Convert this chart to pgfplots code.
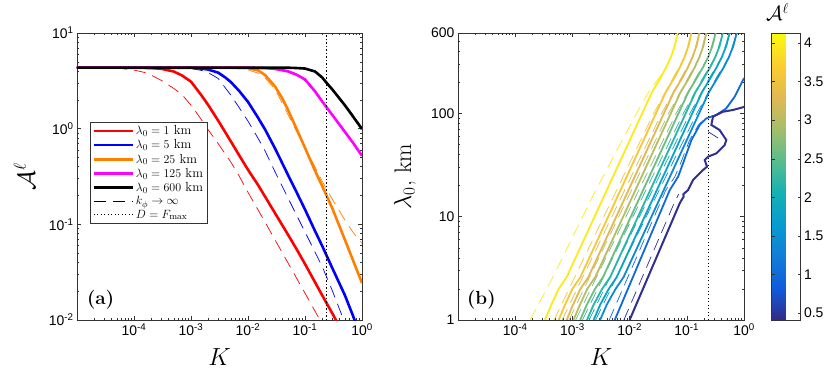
\documentclass[border=0pt]{standalone}
\usepackage{fontspec}
\usepackage{pgfplots}
\pgfplotsset{compat=1.18}
\newfontfamily\ticksf{Liberation Sans}

% parula level colours for panel (b)
\definecolor{c40}{RGB}{250,235,25}
\definecolor{c36}{RGB}{244,200,56}
\definecolor{c33}{RGB}{225,185,82}
\definecolor{c30}{RGB}{181,189,101}
\definecolor{c26}{RGB}{112,189,130}
\definecolor{c22}{RGB}{43,181,167}
\definecolor{c18}{RGB}{12,164,197}
\definecolor{c14}{RGB}{14,137,212}
\definecolor{c10}{RGB}{16,106,219}
\definecolor{c05}{RGB}{49,47,144}
\definecolor{morange}{RGB}{255,128,0}
\definecolor{mmag}{RGB}{255,0,255}

\tikzset{
  thdash/.style={line width=0.7bp, dash pattern=on 12bp off 7bp},
  dotline/.style={black, line width=1.2bp, dash pattern=on 1.2bp off 2.3bp},
  thk/.style={line width=2.6bp},
  cl/.style={line width=1.8bp},
}

\pgfplotsset{
  colormap={parula}{rgb255=(53,42,135) rgb255=(15,92,221) rgb255=(18,125,216)
    rgb255=(7,156,207) rgb255=(21,177,180) rgb255=(89,189,140) rgb255=(165,190,107)
    rgb255=(225,185,82) rgb255=(252,206,46) rgb255=(249,251,14)},
}
\newcommand\minorx{2e-5,3e-5,4e-5,5e-5,6e-5,7e-5,8e-5,9e-5,
      2e-4,3e-4,4e-4,5e-4,6e-4,7e-4,8e-4,9e-4,
      2e-3,3e-3,4e-3,5e-3,6e-3,7e-3,8e-3,9e-3,
      0.02,0.03,0.04,0.05,0.06,0.07,0.08,0.09,
      0.2,0.3,0.4,0.5,0.6,0.7,0.8,0.9}
\newcommand\tenp[1]{10\textsuperscript{#1}}

\begin{document}
\begin{tikzpicture}
\path[use as bounding box] (0,0) rectangle (830bp,377bp);

% ---------------- panel (a)
\begin{axis}[
  scale only axis, width=285bp, height=287bp, anchor=south west, at={(77bp,57bp)},
  xmode=log, ymode=log, xmin=1e-5, xmax=1, ymin=1e-2, ymax=10,
  xtick={1e-4,1e-3,1e-2,1e-1,1},
  xticklabels={\tenp{-4},\tenp{-3},\tenp{-2},\tenp{-1},\tenp{0}},
  minor xtick/.expanded={\minorx},
  ytick={1e-2,1e-1,1,10},
  yticklabels={\tenp{-2},\tenp{-1},\tenp{0},\tenp{1}},
  minor ytick={0.02,0.03,0.04,0.05,0.06,0.07,0.08,0.09,0.2,0.3,0.4,0.5,0.6,0.7,0.8,0.9,2,3,4,5,6,7,8,9},
  tick align=inside, major tick length=4bp, minor tick length=2bp,
  axis line style={black!80, line width=0.6bp},
  tick style={black!80, line width=0.5bp},
  tick label style={font=\ticksf\fontsize{14}{16}\selectfont},
  xlabel={\fontsize{28}{30}\selectfont $K$},
  xlabel style={at={(axis description cs:0.5,0)}, anchor=north, inner sep=0pt, yshift=-28bp},
  ylabel={\fontsize{26}{28}\selectfont $\mathcal{A}^\ell$},
  ylabel style={at={(axis description cs:-0.147,0.5)}, anchor=south, inner sep=0pt},
  legend style={at={(0.0456,0.69)}, anchor=north west,
    font=\fontsize{13.2}{15}\selectfont, draw=black!80, line width=0.5bp,
    inner xsep=2bp, inner ysep=1.5bp, row sep=0pt,
    nodes={inner ysep=1.8bp}},
  legend cell align=left,
  legend image post style={xscale=2.3},
]
% k_phi -> infinity (thin dashed)
\addplot[red, thdash, forget plot] coordinates {
  (1e-5,4.35) (3e-5,4.34) (6e-5,4.25) (1e-4,4.10) (1.5e-4,3.88) (2e-4,3.63)
  (3e-4,3.20) (5e-4,2.63) (7e-4,2.26) (1e-3,1.76) (1.5e-3,1.259) (2e-3,0.973)
  (3e-3,0.697) (5e-3,0.447) (7e-3,0.320) (1e-2,0.216) (2e-2,0.105)
  (5e-2,0.0398) (0.1,0.0191) (0.2,0.0091)};
\addplot[blue, thdash, forget plot] coordinates {
  (1e-5,4.35) (5e-4,4.335) (1e-3,4.25) (1.5e-3,4.07) (2e-3,3.85) (3e-3,3.35)
  (5e-3,2.24) (7e-3,1.66) (1e-2,1.20) (1.5e-2,0.794) (2e-2,0.582) (3e-2,0.351)
  (5e-2,0.190) (0.1,0.0832) (0.2,0.0363) (0.3,0.0204) (0.45,0.01096) (0.5,0.0093)};
\addplot[morange, thdash, forget plot] coordinates {
  (1e-5,4.35) (3e-3,4.34) (5e-3,4.29) (1e-2,4.12) (1.5e-2,3.80) (2e-2,3.39)
  (3e-2,2.57) (5e-2,1.413) (7e-2,0.955) (0.1,0.631) (0.15,0.398) (0.2,0.282)
  (0.3,0.184) (0.5,0.111) (0.7,0.0822) (1,0.0631)};
\addplot[mmag, thdash, forget plot] coordinates {
  (1e-5,4.35) (1e-2,4.34) (2e-2,4.28) (3e-2,4.17) (5e-2,3.90) (7e-2,3.60)
  (0.1,3.17) (0.15,2.40) (0.2,1.90) (0.3,1.38) (0.5,0.92) (0.7,0.70) (1,0.515)};

% full model (thick solid)
\addplot[red, thk] coordinates {
  (1e-5,4.35) (1e-4,4.335) (2e-4,4.30) (3e-4,4.225) (5e-4,3.955) (7e-4,3.59)
  (1e-3,3.1) (1.5e-3,2.26) (2e-3,1.77) (3e-3,1.213) (5e-3,0.736) (7e-3,0.527)
  (1e-2,0.372) (1.5e-2,0.258) (2e-2,0.194) (3e-2,0.130) (5e-2,0.0785)
  (7e-2,0.056) (0.1,0.0385) (0.15,0.0248) (0.2,0.01816) (0.3,0.01178) (0.4,0.00863)};
\addlegendentry{$\lambda_0 = 1$ km}
\addplot[blue, thk] coordinates {
  (1e-5,4.35) (1e-3,4.33) (1.5e-3,4.25) (2e-3,4.15) (3e-3,3.85) (4e-3,3.43)
  (5e-3,3.07) (7e-3,2.48) (1e-2,1.905) (1.5e-2,1.303) (2e-2,0.977) (3e-2,0.617)
  (5e-2,0.331) (7e-2,0.221) (0.1,0.143) (0.15,0.0851) (0.2,0.0596) (0.3,0.0351)
  (0.5,0.0182) (0.7,0.01096) (0.8,0.0087)};
\addlegendentry{$\lambda_0 = 5$ km}
\addplot[morange, thk] coordinates {
  (1e-5,4.35) (5e-3,4.335) (1e-2,4.30) (1.5e-2,4.07) (2e-2,3.63) (3e-2,2.75)
  (4e-2,2.065) (5e-2,1.585) (7e-2,1.016) (0.1,0.631) (0.15,0.363) (0.2,0.252)
  (0.3,0.148) (0.5,0.0692) (0.7,0.0417) (1,0.0243)};
\addlegendentry{$\lambda_0 = 25$ km}
\addplot[mmag, thk] coordinates {
  (1e-5,4.35) (1e-2,4.345) (2e-2,4.30) (3e-2,4.21) (5e-2,3.98) (7e-2,3.69)
  (0.1,3.27) (0.15,2.455) (0.2,1.928) (0.3,1.396) (0.5,0.927) (0.7,0.708) (1,0.52)};
\addlegendentry{$\lambda_0 = 125$ km}
\addplot[black, thk] coordinates {
  (1e-5,4.35) (5e-2,4.335) (7e-2,4.305) (0.1,4.25) (0.15,3.96) (0.2,3.43)
  (0.25,2.92) (0.3,2.58) (0.5,1.758) (0.7,1.334) (1,0.989)};
\addlegendentry{$\lambda_0 = 600$ km}
\addplot[black, thdash] coordinates {
  (1e-5,4.35) (5e-2,4.33) (0.1,4.22) (0.15,3.92) (0.2,3.40) (0.3,2.60)
  (0.5,1.80) (0.7,1.38) (1,1.02)};
\addlegendentry{$k_\phi \rightarrow \infty$}
\addplot[dotline] coordinates {(0.236,0.01) (0.236,10)};
\addlegendentry{$D = F_{\max}$}

\node[anchor=south west, inner sep=0pt, xshift=10bp, yshift=11bp,
  font=\fontsize{19}{21}\selectfont\bfseries] at (rel axis cs:0,0) {(a)};
\end{axis}

% ---------------- panel (b)
\begin{axis}[
  scale only axis, width=286bp, height=287bp, anchor=south west, at={(458bp,57bp)},
  xmode=log, ymode=log, xmin=1e-5, xmax=1, ymin=1, ymax=600,
  xtick={1e-4,1e-3,1e-2,1e-1,1},
  xticklabels={\tenp{-4},\tenp{-3},\tenp{-2},\tenp{-1},\tenp{0}},
  minor xtick/.expanded={\minorx},
  ytick={1,10,100,600}, yticklabels={1,10,100,600},
  minor ytick={2,3,4,5,6,7,8,9,20,30,40,50,60,70,80,90,200,300,400,500},
  tick align=inside, major tick length=4bp, minor tick length=2bp,
  axis line style={black!80, line width=0.6bp},
  tick style={black!80, line width=0.5bp},
  tick label style={font=\ticksf\fontsize{14}{16}\selectfont},
  xlabel={\fontsize{28}{30}\selectfont $K$},
  xlabel style={at={(axis description cs:0.5,0)}, anchor=north, inner sep=0pt, yshift=-28bp},
  ylabel={\fontsize{24}{26}\selectfont $\lambda_0$, km},
  ylabel style={at={(axis description cs:-0.147,0.5)}, anchor=south, inner sep=0pt},
  colormap name=parula, colorbar, point meta min=0.41, point meta max=4.13,
  colorbar style={at={(parent axis.north east)}, anchor=north west, xshift=19bp,
    scale only axis, width=29bp, height=287bp,
    ytick={0.5,1,1.5,2,2.5,3,3.5,4},
    tick align=inside, major tick length=3bp,
    axis line style={black!80, line width=0.6bp},
    tick style={black!80, line width=0.5bp},
    yticklabel style={font=\ticksf\fontsize{14}{16}\selectfont,
      /pgf/number format/assume math mode=true}},
]
% k_phi -> infinity contours (thin dashed)
\addplot[c40, thdash] coordinates {(1.82e-4,1) (4.57e-4,2.6) (2.29e-3,16) (1.318e-2,100)
  (2.138e-2,160) (3.236e-2,220) (4.365e-2,280) (5.248e-2,350) (6.166e-2,450) (6.918e-2,600)};
\addplot[c36, thdash] coordinates {(4.78e-4,1) (2.63e-2,100) (5.75e-2,220) (9.12e-2,350) (0.1202,600)};
\addplot[c33, thdash] coordinates {(6.61e-4,1) (3.63e-2,100) (7.95e-2,220) (0.1259,350) (0.166,600)};
\addplot[c30, thdash] coordinates {(8.71e-4,1) (4.79e-2,100) (0.1047,220) (0.166,350) (0.219,600)};
\addplot[c26, thdash] coordinates {(1.14e-3,1) (6.53e-2,100) (0.1429,220) (0.2356,350) (0.319,600)};
\addplot[c22, thdash] coordinates {(1.50e-3,1) (8.71e-2,100) (0.1905,220) (0.314,350) (0.426,600)};
\addplot[c18, thdash] coordinates {(1.96e-3,1) (0.1135,100) (0.2483,220) (0.409,350) (0.56,600)};
\addplot[c14, thdash] coordinates {(2.54e-3,1) (0.1497,100) (0.3274,220) (0.545,350) (0.746,600)};
\addplot[c10, thdash] coordinates {(4.4e-3,1) (0.043,18.1) (0.062,24.4) (0.078,32.9) (0.112,55.2)
  (0.16,77.3) (0.21,89.5) (0.32,96.6) (0.48,112) (0.68,145) (1,215)};
\addplot[c05, thdash] coordinates {(7.94e-3,1) (0.06,13.5) (0.072,16.5)};
\addplot[c05, thdash] coordinates {(0.235,66.5) (0.402,55.2)};

% full model contours (solid)
\addplot[c40, cl] coordinates {(3.31e-4,1) (4.27e-4,1.4) (5.75e-4,2) (7.94e-4,2.6) (1.66e-2,100)
  (2.455e-2,160) (3.467e-2,220) (4.365e-2,280) (5.248e-2,350) (6.166e-2,450) (6.918e-2,600)};
\addplot[c36, cl] coordinates {(5.75e-4,1) (7.42e-4,1.4) (1.0e-3,2) (1.38e-3,2.6) (2.885e-2,100)
  (4.267e-2,160) (6.026e-2,220) (7.586e-2,280) (9.12e-2,350) (0.1072,450) (0.1202,600)};
\addplot[c33, cl] coordinates {(7.94e-4,1) (1.024e-3,1.4) (1.38e-3,2) (1.905e-3,2.6) (3.98e-2,100)
  (5.89e-2,160) (8.32e-2,220) (0.1047,280) (0.1259,350) (0.1479,450) (0.166,600)};
\addplot[c30, cl] coordinates {(1.047e-3,1) (1.35e-3,1.4) (1.82e-3,2) (2.51e-3,2.6) (5.25e-2,100)
  (7.76e-2,160) (0.1096,220) (0.138,280) (0.166,350) (0.195,450) (0.219,600)};
\addplot[c26, cl] coordinates {(1.37e-3,1) (1.78e-3,1.4) (2.483e-3,2) (3.427e-3,2.6) (7.16e-2,100)
  (0.1059,160) (0.1496,220) (0.1922,280) (0.2356,350) (0.2807,450) (0.319,600)};
\addplot[c22, cl] coordinates {(1.80e-3,1) (2.34e-3,1.4) (3.311e-3,2) (4.57e-3,2.6) (9.55e-2,100)
  (0.1413,160) (0.1995,220) (0.2562,280) (0.314,350) (0.376,450) (0.426,600)};
\addplot[c18, cl] coordinates {(2.35e-3,1) (3.05e-3,1.4) (4.315e-3,2) (5.955e-3,2.6) (0.1245,100)
  (0.1841,160) (0.26,220) (0.3338,280) (0.409,350) (0.490,450) (0.56,600)};
\addplot[c14, cl] coordinates {(3.05e-3,1) (3.97e-3,1.4) (5.69e-3,2) (7.85e-3,2.6) (0.1641,100)
  (0.2427,160) (0.3428,220) (0.444,280) (0.545,350) (0.652,450) (0.746,600)};
\addplot[c10, cl] coordinates {(5.5e-3,1) (5.035e-2,18.11) (7.047e-2,24.38) (8.61e-2,32.89)
  (0.1205,55.21) (0.1683,77.27) (0.2198,89.54) (0.3289,96.6) (0.4909,111.9) (0.6871,145.2) (1,220)};
\addplot[c05, line width=2bp] coordinates {(0.01,1) (0.0753,13.49) (0.081,14.5) (0.088,15.6)
  (0.087,16.5) (0.1052,18.11) (0.1285,22.65) (0.1923,28.31) (0.226,30.48) (0.2056,35.4)
  (0.235,38.1) (0.328,41.0) (0.459,49.4) (0.491,55.2) (0.375,69.0) (0.2685,77.3)
  (0.287,92.9) (0.4295,103.8) (0.641,107.9) (0.959,114.6) (1,116)};

\addplot[dotline] coordinates {(0.236,1) (0.236,600)};
\node[anchor=south west, inner sep=0pt, xshift=9bp, yshift=11bp,
  font=\fontsize{19}{21}\selectfont\bfseries] at (rel axis cs:0,0) {(b)};
\end{axis}

\node[anchor=base, inner sep=0pt] at (777.5bp,356bp) {\fontsize{22}{24}\selectfont $\mathcal{A}^\ell$};
\end{tikzpicture}
\end{document}
